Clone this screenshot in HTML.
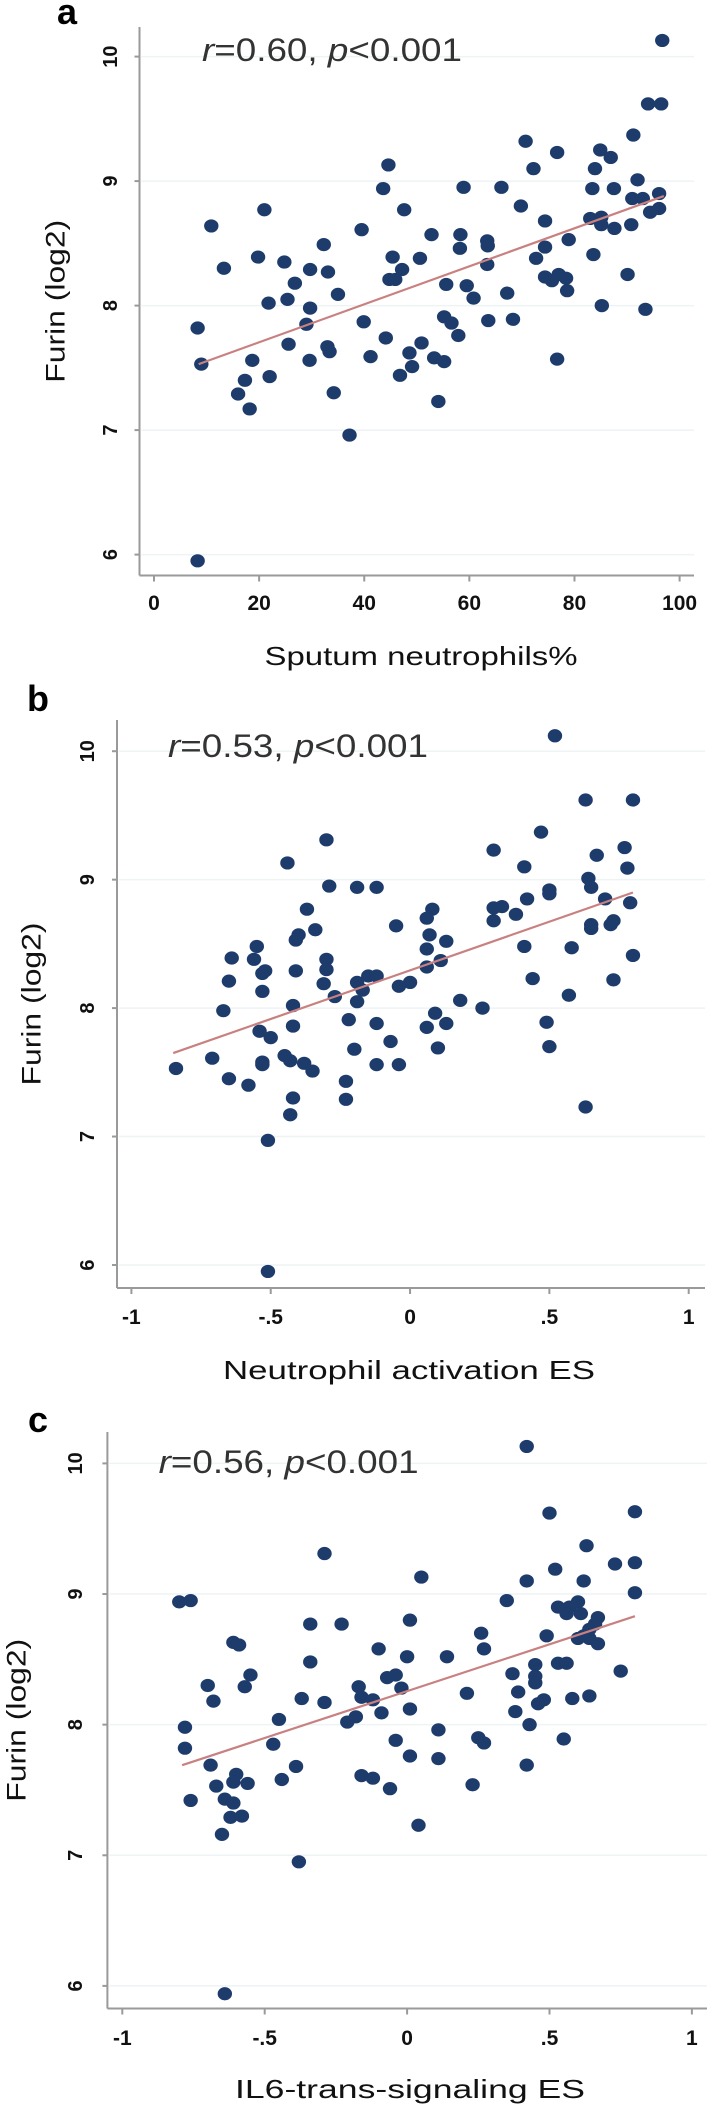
<!DOCTYPE html>
<html><head><meta charset="utf-8"><style>
html,body{margin:0;padding:0;background:#fff;}
svg{display:block;font-family:"Liberation Sans",sans-serif;}
</style></head><body>
<svg id="fig" width="707" height="2116" viewBox="0 0 707 2116"></svg>
<script>
const yTicks=[6,7,8,9,10];
const yTickLabels=["6","7","8","9","10"];
const aXTicks=[0,20,40,60,80,100];
const aXTickLabels=["0","20","40","60","80","100"];
const esTicks=[-1,-0.5,0,0.5,1];
const esTickLabels=["-1","-.5","0",".5","1"];
const aX=[96.7,94,96.5,70.7,91.2,76.7,84.9,86.9,72.2,83.9,44.6,43.6,58.9,66.1,83.4,87.5,92,91,93,96.1,21,47.6,69.8,94.4,96.1,74.4,83,85.1,85.1,90.8,87.6,10.9,39.5,52.8,58.3,63.4,63.5,32.3,58.2,74.4,78.9,13.3,19.8,24.8,45.4,50.6,72.7,83.6,29.7,33.1,47.2,63.4,44.8,45.9,74.4,75.7,77,78.4,90.1,26.8,55.6,59.5,35,67.2,78.6,25.4,60.8,21.8,85.2,93.5,29.7,29,39.9,55.2,56.6,63.6,68.3,8.3,57.9,44.1,25.6,33,33.4,50.9,48.6,41.2,53.3,55.2,18.7,29.6,76.7,9,49.1,22,46.8,17.3,16,34.2,18.2,54.1,37.2,8.3];
const aY=[10.13,9.62,9.62,9.32,9.37,9.23,9.25,9.19,9.10,9.10,9.13,8.94,8.95,8.95,8.94,8.94,9.01,8.86,8.86,8.90,8.77,8.77,8.80,8.75,8.78,8.68,8.70,8.65,8.71,8.65,8.62,8.64,8.61,8.57,8.57,8.52,8.48,8.49,8.46,8.47,8.53,8.30,8.39,8.35,8.39,8.38,8.38,8.41,8.29,8.27,8.29,8.33,8.21,8.21,8.23,8.20,8.25,8.22,8.25,8.18,8.17,8.16,8.09,8.10,8.12,8.05,8.06,8.02,8.0,7.97,7.98,7.85,7.87,7.91,7.86,7.88,7.89,7.82,7.76,7.74,7.69,7.67,7.63,7.70,7.62,7.59,7.58,7.55,7.56,7.56,7.57,7.53,7.51,7.43,7.44,7.40,7.29,7.30,7.17,7.23,6.96,5.95];
const aFitX=[8.5,97];
const aFitY=[7.53,8.88];
const bX=[.52,.63,.80,-.30,.47,.30,.77,.67,-.44,.41,.78,-.29,-.19,-.12,.50,.50,.64,.65,.70,.79,.42,-.37,.08,.30,.33,.38,.06,.30,.72,.73,.65,.65,-.05,-.34,-.40,-.41,.07,.13,-.55,.06,.41,.58,.80,-.64,-.56,-.30,-.30,-.52,-.53,-.41,.06,.11,-.65,-.31,-.19,-.17,-.15,-.12,0,-.04,.44,.73,-.53,-.27,-.19,.18,.57,-.67,-.42,.26,.09,-.22,-.12,.13,.49,-.42,.06,-.54,-.50,-.07,.50,.10,-.20,-.45,-.43,-.71,-.53,-.53,-.38,-.12,-.04,-.35,-.84,-.65,-.58,-.23,-.42,-.23,-.43,.63,-.51,-.51];
const bY=[10.12,9.62,9.62,9.31,9.37,9.23,9.25,9.19,9.13,9.10,9.09,8.95,8.94,8.94,8.92,8.89,9.01,8.94,8.85,8.82,8.85,8.77,8.77,8.78,8.79,8.73,8.70,8.68,8.65,8.68,8.62,8.65,8.64,8.61,8.57,8.53,8.57,8.52,8.48,8.46,8.48,8.47,8.41,8.39,8.38,8.38,8.30,8.29,8.27,8.29,8.32,8.37,8.21,8.19,8.20,8.14,8.25,8.25,8.20,8.17,8.23,8.22,8.13,8.09,8.05,8.06,8.10,7.98,8.02,8.0,7.96,7.91,7.88,7.88,7.89,7.86,7.85,7.82,7.77,7.74,7.70,7.69,7.68,7.63,7.59,7.61,7.58,7.56,7.57,7.56,7.56,7.51,7.53,7.45,7.40,7.43,7.30,7.29,7.17,7.23,6.97,5.95];
const bFitX=[-0.85,0.8];
const bFitY=[7.65,8.9];
const cX=[.42,.50,.80,-.29,.63,.73,.80,.52,.42,.62,.05,.80,-.80,-.76,.35,.53,.57,.60,.56,.61,.67,-.34,-.23,.01,.26,.49,.64,.66,.60,.64,.67,.62,-.61,-.59,-.10,.27,.14,0,-.34,.53,.56,.45,.75,-.55,-.07,-.04,.37,.45,.45,-.70,-.57,-.17,-.02,.21,.39,.64,.58,-.37,-.16,-.12,-.68,-.29,.48,.46,.01,.38,-.09,-.18,-.21,-.45,.43,-.78,.11,.25,.27,-.04,.55,-.47,-.78,.01,.11,-.69,-.39,.42,-.60,-.16,-.12,-.44,-.56,-.61,-.67,.23,-.06,-.76,-.64,-.61,-.62,-.58,-.65,.04,-.38,-.64];
const cY=[10.13,9.62,9.63,9.31,9.37,9.23,9.24,9.19,9.10,9.10,9.13,9.01,8.94,8.95,8.95,8.90,8.90,8.94,8.85,8.85,8.82,8.77,8.77,8.80,8.70,8.68,8.73,8.77,8.66,8.66,8.62,8.68,8.63,8.61,8.58,8.58,8.52,8.52,8.48,8.47,8.47,8.46,8.41,8.38,8.36,8.38,8.39,8.37,8.32,8.30,8.29,8.29,8.28,8.24,8.25,8.22,8.20,8.20,8.21,8.19,8.18,8.17,8.19,8.16,8.12,8.10,8.09,8.06,8.02,8.04,8.0,7.98,7.96,7.90,7.86,7.88,7.89,7.85,7.82,7.76,7.74,7.69,7.68,7.69,7.62,7.61,7.59,7.58,7.55,7.56,7.53,7.54,7.51,7.42,7.43,7.40,7.29,7.30,7.16,7.23,6.95,5.94];
const cFitX=[-0.79,0.8];
const cFitY=[7.69,8.83];

const NS="http://www.w3.org/2000/svg";
const svg=document.getElementById('fig');
function mk(tag,attrs,parent){const e=document.createElementNS(NS,tag);for(const k in attrs)e.setAttribute(k,attrs[k]);(parent||svg).appendChild(e);return e;}

function panel(cfg){
  const g=mk('g',{});
  
  
  const sx=v=>cfg.x0px+(v-cfg.x0v)*(cfg.x1px-cfg.x0px)/(cfg.x1v-cfg.x0v);
  const sy=v=>cfg.y6px+(v-6)*(cfg.y10px-cfg.y6px)/4;
  // gridlines
  yTicks.forEach((t,i)=>{
    const l=mk('line',{x1:cfg.axX+2,x2:cfg.axR,y1:sy(t),y2:sy(t),stroke:'#eef3f4','stroke-width':1.5},g);
    
    
  });
  // axes
  const ya=mk('line',{x1:cfg.axX,x2:cfg.axX,y1:cfg.axTop,y2:cfg.axBot,stroke:'#9a9a9a','stroke-width':2},g);
  
  
  const xa=mk('line',{x1:cfg.axX,x2:cfg.axR,y1:cfg.axBot,y2:cfg.axBot,stroke:'#9a9a9a','stroke-width':2},g);
  
  
  yTicks.forEach((t,i)=>{
    mk('line',{x1:cfg.axX-5,x2:cfg.axX,y1:sy(t),y2:sy(t),stroke:'#9a9a9a','stroke-width':2},g);
    const tx=mk('text',{x:cfg.yLabX,y:sy(t),'font-size':20,'font-weight':'bold',fill:'#111','text-anchor':'middle',transform:`rotate(-90 ${cfg.yLabX} ${sy(t)})`,dy:'0.35em'},g);
    tx.textContent=yTickLabels[i];
    
    
  });
  cfg.xTicks.forEach((t,i)=>{
    mk('line',{x1:sx(t),x2:sx(t),y1:cfg.axBot,y2:cfg.axBot+6,stroke:'#9a9a9a','stroke-width':2},g);
    const tx=mk('text',{x:sx(t),y:cfg.xLabY,'font-size':21,'font-weight':'bold',fill:'#111','text-anchor':'middle'},g);
    tx.textContent=cfg.xLabels[i];
    
    
  });
  // points
  cfg.xs.forEach((v,i)=>{
    const c=mk('ellipse',{cx:sx(v),cy:sy(cfg.ys[i]),rx:7.2,ry:6.6,fill:'#1d3b6b'},g);
    
    
  });
  // fit line
  const fl=mk('line',{x1:sx(cfg.fx[0]),y1:sy(cfg.fy[0]),x2:sx(cfg.fx[1]),y2:sy(cfg.fy[1]),stroke:'#c98080','stroke-width':2.2},g);
  
  
  // annotation
  const an=mk('text',{x:cfg.anX,y:cfg.anY,'font-size':32,fill:'#333',textLength:260,lengthAdjust:'spacingAndGlyphs'},g);
  an.innerHTML='<tspan font-style="italic">r</tspan>='+cfg.r+', <tspan font-style="italic">p</tspan>&lt;0.001';
  
  
  // titles
  const xt=mk('text',{x:cfg.xTitleX,y:cfg.xTitleY,'font-size':26,fill:'#111','text-anchor':'middle',textLength:cfg.xTitleLen,lengthAdjust:'spacingAndGlyphs'},g);
  xt.textContent=cfg.xTitle;
  
  
  const ytY=(cfg.axTop+cfg.axBot)/2;
  const yt=mk('text',{x:cfg.yTitleX,y:ytY,'font-size':27,fill:'#111','text-anchor':'middle',transform:`rotate(-90 ${cfg.yTitleX} ${ytY})`,dy:'0.35em',textLength:163,lengthAdjust:'spacingAndGlyphs'},g);
  yt.textContent='Furin (log2)';
  
  
  const lt=mk('text',{x:cfg.letX,y:cfg.letY,'font-size':36,'font-weight':'bold',fill:'#000'},g);
  lt.textContent=cfg.letter;
  
  
}

panel({letter:'a',xs:aX,ys:aY,fx:aFitX,fy:aFitY,r:'0.60',xTicks:aXTicks,xLabels:aXTickLabels,
  x0v:0,x1v:100,x0px:154,x1px:679.6,y6px:554.6,y10px:56.6,axX:139.5,axTop:27,axBot:575.5,axR:694,
  yLabX:110,xLabY:610,anX:202,anY:61,xTitle:'Sputum neutrophils%',xTitleX:421,xTitleY:665,xTitleLen:313,yTitleX:55,letX:57,letY:24});
panel({letter:'b',xs:bX,ys:bY,fx:bFitX,fy:bFitY,r:'0.53',xTicks:esTicks,xLabels:esTickLabels,
  x0v:-1,x1v:1,x0px:131.4,x1px:688.7,y6px:1265,y10px:751.2,axX:117,axTop:720,axBot:1288,axR:705,
  yLabX:87,xLabY:1324,anX:168,anY:757,xTitle:'Neutrophil activation ES',xTitleX:409,xTitleY:1379,xTitleLen:372,yTitleX:31,letX:27,letY:711});
panel({letter:'c',xs:cX,ys:cY,fx:cFitX,fy:cFitY,r:'0.56',xTicks:esTicks,xLabels:esTickLabels,
  x0v:-1,x1v:1,x0px:122.3,x1px:691.9,y6px:1985.9,y10px:1463.4,axX:107.4,axTop:1432,axBot:2008.5,axR:707,
  yLabX:75,xLabY:2045,anX:158.6,anY:1473,xTitle:'IL6-trans-signaling ES',xTitleX:410,xTitleY:2098,xTitleLen:350,yTitleX:16,letX:28,letY:1432});
</script>
</body></html>
